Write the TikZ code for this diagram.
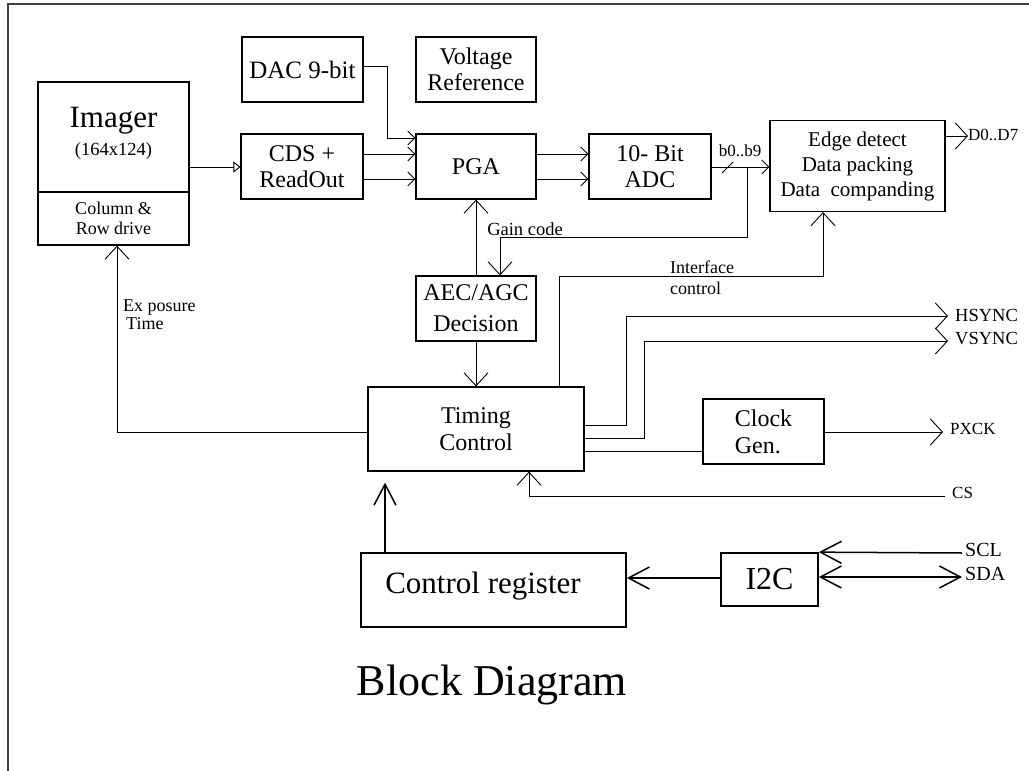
\documentclass[tikz,border=0pt]{standalone}
\usepackage{fontspec}
\setmainfont{Liberation Serif}
\usepackage{tikz}
\usetikzlibrary{positioning, arrows.meta}
\newcommand{\fsz}[2]{\fontsize{#1}{#2}\selectfont}

\begin{document}
\begin{tikzpicture}[
                    x=1pt, y=-1pt,
                    block/.style={draw, line width=1.2pt, inner sep=0pt, align=center, font=\fsz{24}{26}},
                    heavy/.style={draw, line width=1.7pt, inner sep=0pt},
                    wire/.style={line width=0.9pt},
                    thk/.style={line width=1.5pt},
                    lbl/.style={inner sep=0pt, font=\fsz{18.5}{21}},
                    sig/.style={inner sep=0pt, font=\fsz{18.5}{21}},
                    tri/.style={-{Triangle[open, length=7pt, width=11pt]}},
                    tipS/.style={-{Straight Barb[length=7pt, width=14pt]}},
                    tipM/.style={-{Straight Barb[length=13pt, width=24pt]}},
                    tipH/.style={-{Straight Barb[length=12pt, width=26pt]}},
                    tipL/.style={-{Straight Barb[length=21pt, width=22pt]}}
                ]
                  \useasboundingbox (0,0) rectangle (1029,771);
                  \draw[line width=1.8pt, black!75] (8,771) -- (8,4) -- (1029,4);

                  \node[block, minimum width=151pt, minimum height=110pt] (img) at (113.5,137) {};
                  \node[inner sep=0pt, font=\fsz{31}{34}] (imgname) at (113.5,121) {Imager};
                  \node[inner sep=0pt, font=\fsz{18.5}{20}] (imgsize) at (113.5,151) {(164x124)};
                  \node[block, minimum width=151pt, minimum height=53pt, font=\fsz{18}{20}] (imgb) at (113.5,218.5) {Column \&\\Row drive};

                  \node[block, minimum width=121pt, minimum height=65pt, font=\fsz{25}{26}] (dac) at (302.5,69.5) {DAC 9-bit};
                  \node[block, minimum width=120pt, minimum height=65pt] (vref) at (476,69.5) {Voltage\\Reference};
                  \node[block, minimum width=122pt, minimum height=65pt] (cds) at (302,166.5) {CDS +\\ReadOut};
                  \node[block, minimum width=120pt, minimum height=65pt] (pga) at (476,166.5) {PGA};
                  \node[block, minimum width=122pt, minimum height=65pt] (adc) at (650,166.5) {10- Bit\\ADC};
                  \node[block, minimum width=175pt, minimum height=91pt, font=\fsz{21}{25}] (edge) at (857.5,166) {Edge detect\\Data packing\\Data\ \ companding};
                  \node[block, minimum width=120pt, minimum height=65pt, font=\fsz{24}{31}] (aec) at (476,308.5) {AEC/AGC\\Decision};
                  \node[block, minimum width=216pt, minimum height=84pt, font=\fsz{24}{27}] (tim) at (476,429) {Timing\\Control};
                  \node[block, minimum width=121pt, minimum height=65pt, font=\fsz{24}{27}, align=left] (clk) at (763.5,431.5) {Clock\\Gen.};
                  \node[heavy, minimum width=265pt, minimum height=74pt] (ctrl) at (493.5,590) {};
                  \node[inner sep=0pt, font=\fsz{31}{34}] (ctrlname) at (483,586.5) {Control register};
                  \node[heavy, minimum width=97pt, minimum height=53pt, font=\fsz{32}{34}] (i2c) at (769.5,579.5) {I2C};

                  \node[inner sep=0pt, font=\fsz{44}{48}] (title) at (492,685) {Block Diagram};

                  \coordinate (tap) at (747,167);
                  \coordinate (d0T) at (968,136);
                  \coordinate (hsT) at (948,316);
                  \coordinate (vsT) at (948,341);
                  \coordinate (pxT) at (943,432);
                  \coordinate (csT) at (945,496);
                  \coordinate (sclT) at (962,553);
                  \coordinate (sdaT) at (962,577);

                  \draw[wire, tri] (img.east |- 0,167) -- (cds.west |- 0,167);
                  \draw[wire, tipS] (dac.east |- 0,66) -| (387,138) -- (pga.west |- 0,138);
                  \draw[wire, tipS] (cds.east |- 0,154) -- (pga.west |- 0,154);
                  \draw[wire, tipS] (cds.east |- 0,179) -- (pga.west |- 0,179);
                  \draw[wire, tipS] (pga.east |- 0,154) -- (adc.west |- 0,154);
                  \draw[wire, tipS] (pga.east |- 0,179) -- (adc.west |- 0,179);
                  \draw[wire, tipS] (adc.east |- 0,167) -- (edge.west |- 0,167);
                  \draw[wire] (722,173) -- (733,162);
                  \node[lbl, font=\fsz{17}{19}] (bus) at (740,150.5) {b0..b9};
                  \draw[wire, tipH] (edge.east |- d0T) -- (d0T);
                  \node[sig, font=\fsz{17}{19}, right=0pt of d0T, yshift=1pt] (dout) {D0..D7};

                  \draw[wire, tipM] (tap) |- (500,237) -- (aec.north -| 500,0);
                  \draw[wire, tipM] (aec.north) -- (pga.south);
                  \node[lbl] (gain) at (525,229) {Gain code};
                  \draw[wire, tipM] (aec.south) -- (tim.north);
                  \draw[wire, tipM] (tim.north -| 559,0) |- (823,276) -- (edge.south -| 823,0);
                  \node[lbl, font=\fsz{18}{21}, align=left, anchor=west] (ifc) at (670,277.5) {Interface\\control};

                  \draw[wire, tipH] (tim.east |- 0,425) -| (626,316) -- (hsT);
                  \draw[wire, tipH] (tim.east |- 0,438) -| (644,341) -- (vsT);
                  \node[sig, right=7pt of hsT, yshift=1pt] (hsync) {HSYNC};
                  \node[sig, right=7pt of vsT, yshift=2pt] (vsync) {VSYNC};
                  \draw[wire] (tim.east |- 0,451) -- (clk.west |- 0,451);
                  \draw[wire, tipH] (clk.east |- pxT) -- (pxT);
                  \node[sig, font=\fsz{17}{19}, right=7pt of pxT, yshift=3pt] (pxck) {PXCK};
                  \draw[wire, tipM] (csT) -| (tim.south -| 529,0);
                  \node[sig, font=\fsz{17}{19}, right=7pt of csT, yshift=3pt] (cs) {CS};

                  \draw[wire, tipM] (tim.west |- 0,432) -| (imgb.south -| 117,0);
                  \node[lbl, font=\fsz{18}{18}, align=left, anchor=west] (expo) at (123,315) {Ex posure\\\hspace{3pt}Time};

                  \draw[thk, tipL, shorten >=11pt] (ctrl.north -| 385,0) -- (tim.south -| 385,0);
                  \draw[thk, tipL] (i2c.west |- 0,578) -- (ctrl.east |- 0,578);
                  \draw[thk, tipL] (sclT) -- (i2c.north east);
                  \draw[thk, {Straight Barb[length=21pt, width=22pt]}-{Straight Barb[length=21pt, width=22pt]}] (i2c.east |- sdaT) -- (sdaT);
                  \node[sig, font=\fsz{20}{22}, right=3pt of sclT, yshift=3pt] (scl) {SCL};
                  \node[sig, font=\fsz{20}{22}, right=3pt of sdaT, yshift=3pt] (sda) {SDA};
                \end{tikzpicture}
\end{document}
